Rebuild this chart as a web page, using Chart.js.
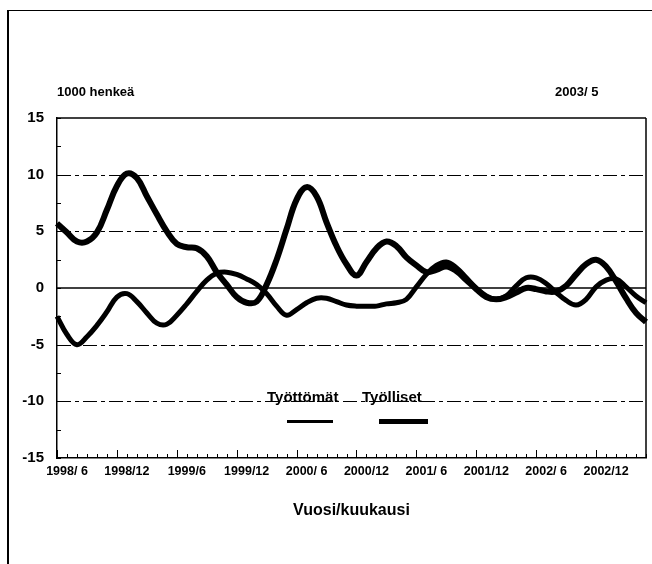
<!DOCTYPE html>
<html>
<head>
<meta charset="utf-8">
<script src="https://cdn.jsdelivr.net/npm/chart.js@4.4.0/dist/chart.umd.min.js"></script>
<style>
  body { margin: 0; background: #fff; }
  #wrap { position: relative; width: 652px; height: 564px; overflow: hidden; font-family: "Liberation Sans", Arial, sans-serif; color: #000; }
  #frame { position: absolute; left: 7px; top: 10px; width: 660px; height: 600px; border-left: 2px solid #000; border-top: 1.5px solid #000; }
  .lbl { position: absolute; white-space: nowrap; line-height: 1; font-weight: bold; }
  .sample { position: absolute; background: #000; }
  canvas { position: absolute; left: 0; top: 0; }
</style>
</head>
<body>
<div id="wrap">
  <div id="frame"></div>
  <canvas id="chart" width="652" height="564"></canvas>
  <div class="lbl" style="left:57px; top:85px; font-size:13px;">1000 henkeä</div>
  <div class="lbl" style="left:555px; top:85px; font-size:13px;">2003/ 5</div>
  <div class="lbl" style="left:267px; top:389px; font-size:15px;">Työttömät</div>
  <div class="lbl" style="left:362px; top:389px; font-size:15px;">Työlliset</div>
  <div class="sample" style="left:287px; top:420px; width:46px; height:3px;"></div>
  <div class="sample" style="left:379px; top:419px; width:49px; height:5px;"></div>
</div>
<script>
// kuukaudet 1998/5 - 2003/4
const months = [
  '1998/ 5','1998/ 6','1998/ 7','1998/ 8','1998/ 9','1998/10','1998/11','1998/12',
  '1999/ 1','1999/ 2','1999/ 3','1999/ 4','1999/ 5','1999/6','1999/ 7','1999/ 8','1999/ 9','1999/10','1999/11','1999/12',
  '2000/ 1','2000/ 2','2000/ 3','2000/ 4','2000/ 5','2000/ 6','2000/ 7','2000/ 8','2000/ 9','2000/10','2000/11','2000/12',
  '2001/ 1','2001/ 2','2001/ 3','2001/ 4','2001/ 5','2001/ 6','2001/ 7','2001/ 8','2001/ 9','2001/10','2001/11','2001/12',
  '2002/ 1','2002/ 2','2002/ 3','2002/ 4','2002/ 5','2002/ 6','2002/ 7','2002/ 8','2002/ 9','2002/10','2002/11','2002/12',
  '2003/ 1','2003/ 2','2003/ 3','2003/ 4'
];
const xTickLabels = ['1998/ 6','1998/12','1999/6','1999/12','2000/ 6','2000/12','2001/ 6','2001/12','2002/ 6','2002/12'];

// muutos edellisvuodesta, 1000 henkeä
const tyolliset = [
  5.7, 4.9, 4.1, 4.1, 4.9, 6.9, 9.0, 10.1, 9.7, 8.1,
  6.5, 5.0, 3.9, 3.6, 3.5, 2.8, 1.4, 0.3, -0.8, -1.3,
  -1.2, 0.3, 2.5, 5.2, 7.8, 8.9, 8.1, 5.8, 3.7, 2.1,
  1.1, 2.3, 3.5, 4.1, 3.7, 2.7, 2.0, 1.4, 1.6, 1.9,
  1.5, 0.7, -0.1, -0.8, -1.0, -0.8, -0.4, 0.0, -0.1, -0.3,
  -0.3, 0.2, 1.2, 2.1, 2.5, 1.9, 0.6, -0.9, -2.2, -3.0
];
const tyottomat = [
  -2.5, -4.1, -5.0, -4.3, -3.3, -2.1, -0.8, -0.5, -1.2, -2.2,
  -3.1, -3.2, -2.4, -1.4, -0.3, 0.7, 1.3, 1.4, 1.2, 0.8,
  0.3, -0.5, -1.6, -2.4, -1.9, -1.3, -0.9, -0.9, -1.2, -1.5,
  -1.6, -1.6, -1.6, -1.4, -1.3, -1.0, 0.1, 1.2, 2.0, 2.3,
  1.8, 0.9, 0.0, -0.7, -1.0, -0.7, 0.2, 0.9, 0.9, 0.4,
  -0.4, -1.1, -1.5, -1.0, 0.1, 0.7, 0.8, 0.1, -0.7, -1.3
];
const yTicks = [-15, -10, -5, 0, 5, 10, 15];

Chart.defaults.font.family = '"Liberation Sans", Arial, sans-serif';
Chart.defaults.font.weight = 'bold';
Chart.defaults.color = '#000';

// apuviivat, kehys ja sisäänpäin osoittavat jaot
const frameLines = {
  id: 'frameLines',
  beforeDatasetsDraw(chart) {
    const { ctx, chartArea: a, scales: { x, y } } = chart;
    const line = (x1, y1, x2, y2) => { ctx.beginPath(); ctx.moveTo(x1, y1); ctx.lineTo(x2, y2); ctx.stroke(); };
    ctx.save();
    ctx.strokeStyle = '#000';
    ctx.lineWidth = 1;
    ctx.setLineDash([14, 4, 4, 4]);
    yTicks.forEach(v => {
      if (v === 0 || Math.abs(v) === 15) return;
      const py = Math.round(y.getPixelForValue(v)) + 0.5;
      line(a.left, py, a.right, py);
    });
    ctx.setLineDash([]);
    ctx.lineWidth = 1.5;
    const p0 = y.getPixelForValue(0);
    line(a.left, p0, a.right, p0);
    line(a.left, a.top, a.right, a.top);
    line(a.right, a.top, a.right, a.bottom);
    // x-jaot
    ctx.lineWidth = 1;
    months.forEach((m, i) => {
      const px = Math.round(x.getPixelForValue(i)) + 0.5;
      const len = i % 6 === 0 ? 8 : 4;
      line(px, a.bottom, px, a.bottom - len);
    });
    // y-jaot
    for (let v = -15; v <= 15; v += 2.5) {
      const py = Math.round(y.getPixelForValue(v)) + 0.5;
      line(a.left, py, a.left + 4, py);
    }
    ctx.restore();
  }
};

new Chart(document.getElementById('chart'), {
  type: 'line',
  data: {
    labels: months,
    datasets: [
      {
        label: 'Työttömät',
        data: tyottomat,
        borderColor: '#000',
        borderWidth: 5,
        pointRadius: 0,
        tension: 0.4,
        borderJoinStyle: 'round',
        fill: false
      },
      {
        label: 'Työlliset',
        data: tyolliset,
        borderColor: '#000',
        borderWidth: 6,
        pointRadius: 0,
        tension: 0.4,
        borderJoinStyle: 'round',
        fill: false
      }
    ]
  },
  options: {
    responsive: false,
    animation: false,
    layout: { padding: { top: 118, right: 4, bottom: 44, left: 0 } },
    plugins: { legend: { display: false }, tooltip: { enabled: false } },
    scales: {
      x: {
        type: 'category',
        offset: false,
        grid: { display: false, drawTicks: false },
        border: { display: true, color: '#000', width: 1.5 },
        ticks: {
          autoSkip: false,
          maxRotation: 0,
          padding: 6,
          font: { size: 12.5 },
          callback: (v, i) => xTickLabels.includes(months[i]) ? months[i] : ''
        },
        title: { display: true, text: 'Vuosi/kuukausi', font: { size: 16 }, padding: 0 },
        afterFit: s => { s.height = 62; }
      },
      y: {
        min: -15,
        max: 15,
        grid: { display: false, drawTicks: false },
        border: { display: true, color: '#000', width: 1.5 },
        ticks: { stepSize: 5, padding: 13, font: { size: 15 } },
        afterFit: s => { s.width = 57; }
      }
    }
  },
  plugins: [frameLines]
});
</script>
</body>
</html>
